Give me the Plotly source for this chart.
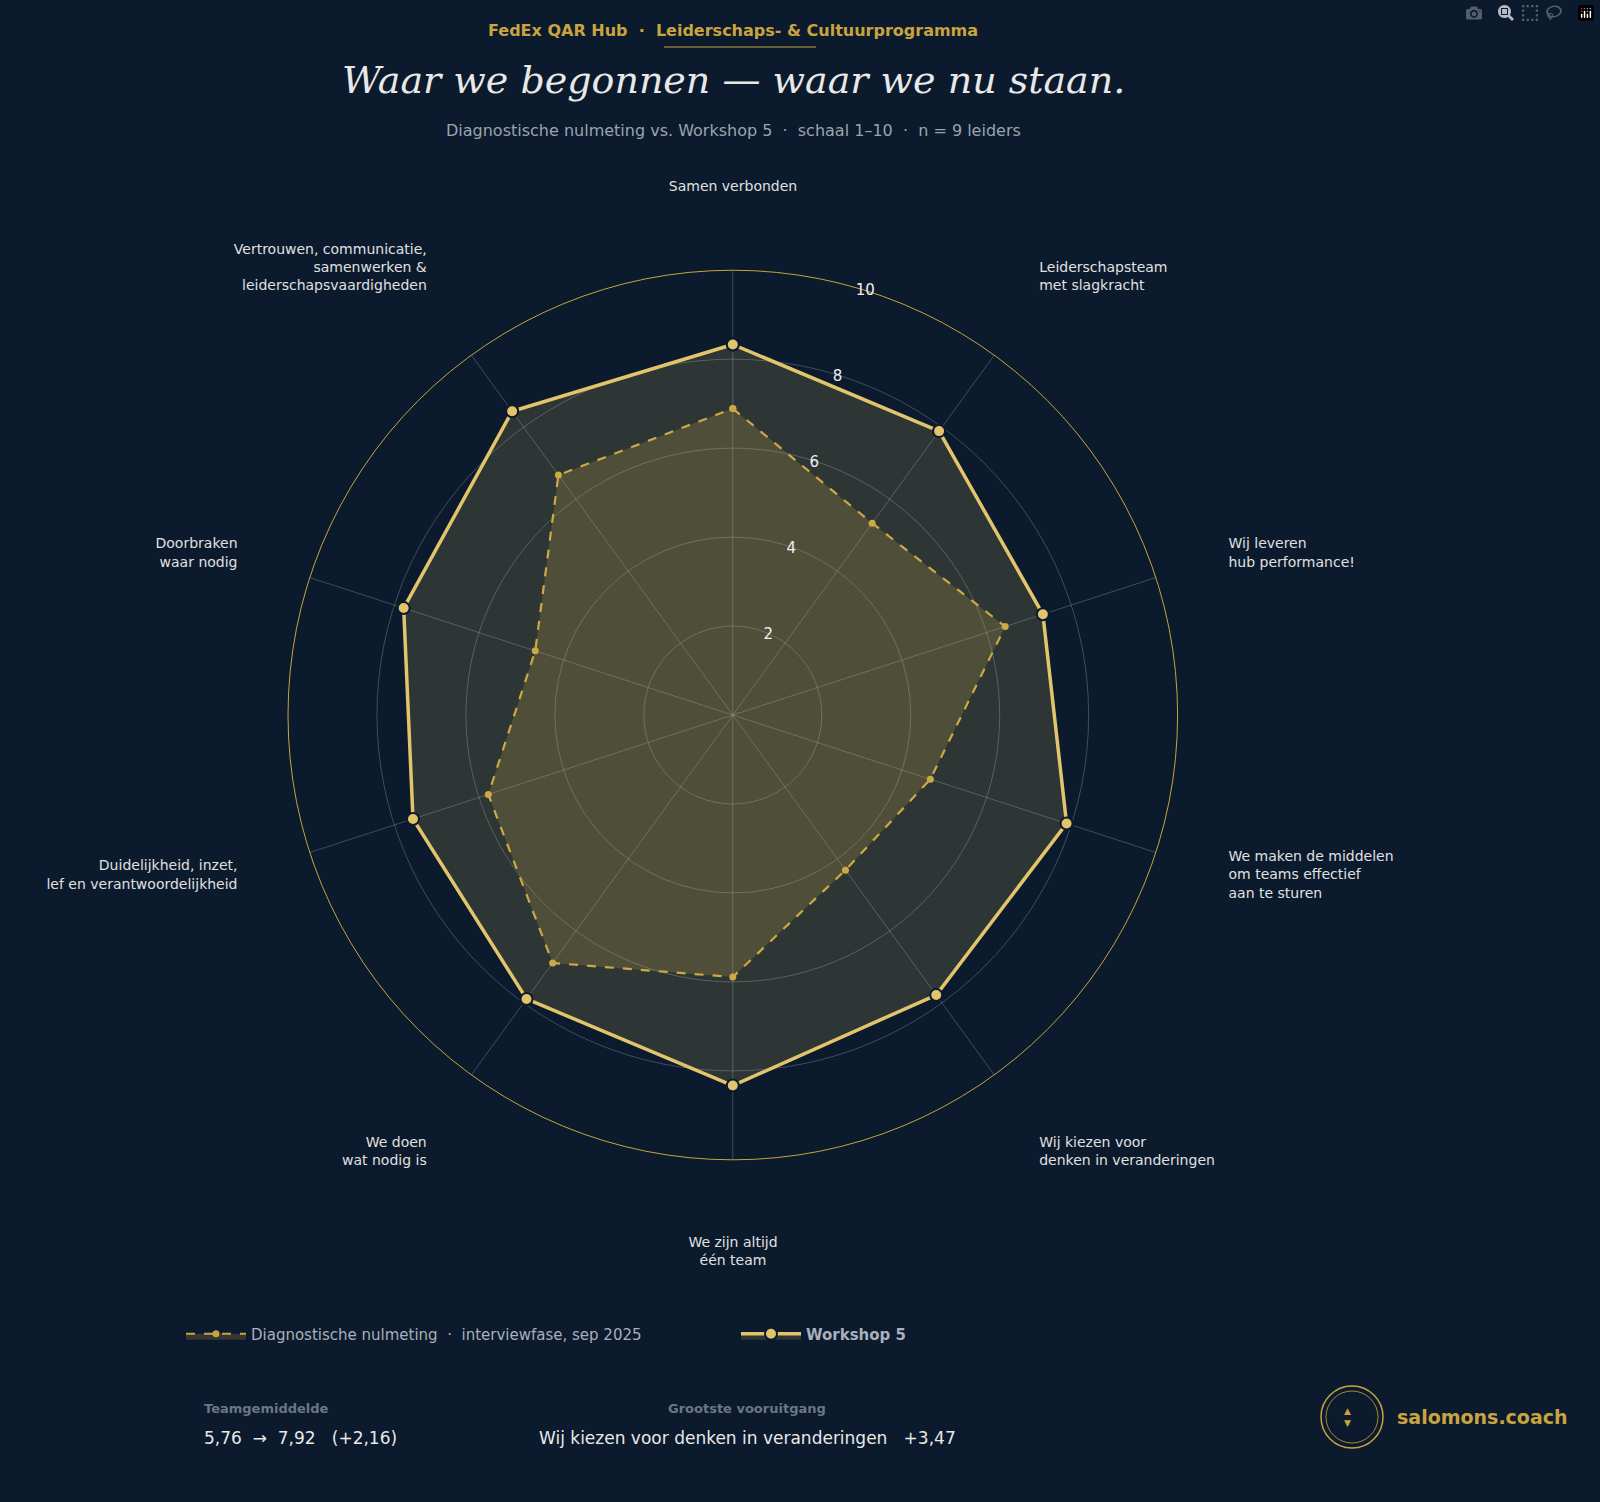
import plotly.graph_objects as go

categories = ["Samen verbonden", "Leiderschapsteam<br>met slagkracht", "Wij leveren<br>hub performance!",
              "We maken de middelen<br>om teams effectief<br>aan te sturen", "Wij kiezen voor<br>denken in veranderingen",
              "We zijn altijd<br>één team", "We doen<br>wat nodig is", "Duidelijkheid, inzet,<br>lef en verantwoordelijkheid",
              "Doorbraken<br>waar nodig", "Vertrouwen, communicatie,<br>samenwerken &<br>leiderschapsvaardigheden"]
baseline = [6.89, 5.33, 6.44, 4.67, 4.31, 5.89, 6.89, 5.78, 4.67, 6.67]
workshop5 = [8.33, 7.89, 7.33, 7.89, 7.78, 8.33, 7.89, 7.56, 7.78, 8.44]
radial_ticks = [2, 4, 6, 8, 10]
label_positions = ["top center", "top right", "middle right", "middle right", "bottom right",
                   "bottom center", "bottom left", "middle left", "middle left", "top left"]

BG = "#0b1a2c"
GOLD = "#c9a43f"
LIGHTGOLD = "#e2c46b"

theta = categories + [categories[0]]
fig = go.Figure()
fig.add_trace(go.Scatterpolar(r=baseline + [baseline[0]], theta=theta, mode="lines+markers",
    fill="toself", fillcolor="rgba(201,164,63,0.22)",
    line=dict(color=GOLD, width=2.2, dash="dash"), marker=dict(size=7, color=GOLD),
    name="Diagnostische nulmeting  ·  interviewfase, sep 2025"))
fig.add_trace(go.Scatterpolar(r=workshop5 + [workshop5[0]], theta=theta, mode="lines+markers",
    fill="toself", fillcolor="rgba(226,196,107,0.16)",
    line=dict(color=LIGHTGOLD, width=3.5), marker=dict(size=12, color=LIGHTGOLD, line=dict(color=BG, width=2)),
    name="<b>Workshop 5</b>"))
fig.add_trace(go.Scatterpolar(r=[10] * len(categories), theta=categories, mode="text", text=categories,
    textposition=label_positions, textfont=dict(size=14, color="#e0e0e0"), subplot="polar2",
    showlegend=False, hoverinfo="skip"))

fig.update_layout(
    width=1600, height=1502, paper_bgcolor=BG, plot_bgcolor=BG,
    margin=dict(l=0, r=0, t=0, b=0),
    font=dict(family="DejaVu Sans", color="#e8e8e8", size=14),
    polar=dict(
        bgcolor=BG, domain=dict(x=[0.18, 0.736], y=[0.2277, 0.8202]),
        radialaxis=dict(range=[0, 10], tickvals=radial_ticks, angle=75, tickangle=75,
                        gridcolor="rgba(160,170,185,0.35)", showline=False,
                        tickfont=dict(size=15, color="#f0f0f0", family="DejaVu Sans"), ticks=""),
        angularaxis=dict(rotation=90, direction="clockwise", gridcolor="rgba(160,170,185,0.35)",
                         linecolor=GOLD, linewidth=1, ticks="", showticklabels=False),
    ),
    polar2=dict(
        bgcolor="rgba(0,0,0,0)", domain=dict(x=[212/1600, 1254/1600], y=[1-1236/1502, 1-194/1502]),
        radialaxis=dict(range=[0, 10], visible=False),
        angularaxis=dict(rotation=90, direction="clockwise", visible=False, categoryarray=categories),
    ),
    legend=dict(orientation="h", x=0.46, xanchor="center", y=1-1334/1502, yanchor="middle",
                font=dict(size=15, color="#a8b0bb"), bgcolor="rgba(0,0,0,0)",
                entrywidth=480, itemwidth=60),
)

ann = [
    dict(text="<b>FedEx QAR Hub  ·  Leiderschaps- & Cultuurprogramma</b>", x=733/1600, y=1502-30, font=dict(size=16, color=GOLD)),
    dict(text="<i>Waar we begonnen — waar we nu staan.</i>", x=733/1600, y=1502-80, font=dict(size=38, color="#e8e8e8", family="DejaVu Serif")),
    dict(text="Diagnostische nulmeting vs. Workshop 5  ·  schaal 1–10  ·  n = 9 leiders", x=733/1600, y=1502-130, font=dict(size=16, color="#9aa4b0")),
    dict(text="<b>Teamgemiddelde</b>", x=0.126, y=1502-1408, xanchor="left", font=dict(size=13, color="#6b7686")),
    dict(text="5,76  →  7,92   (+2,16)", x=0.126, y=1502-1438, xanchor="left", font=dict(size=17, color="#e8e8e8")),
    dict(text="<b>Grootste vooruitgang</b>", x=0.467, y=1502-1408, font=dict(size=13, color="#6b7686")),
    dict(text="Wij kiezen voor denken in veranderingen   +3,47", x=0.467, y=1502-1438, font=dict(size=17, color="#e8e8e8")),
    dict(text="<b>salomons.coach</b>", x=0.872, y=1502-1417, xanchor="left", font=dict(size=19, color=GOLD)),
    dict(text="▲<br>▼", x=0.8455, y=1502-1417, font=dict(size=9, color=GOLD)),
]
for a in ann:
    fig.add_annotation(xref="paper", yref="paper", showarrow=False, yanchor="middle",
                       **{k: (v / 1502 if k == "y" else v) for k, v in a.items()})
fig.add_shape(type="line", xref="paper", yref="paper", x0=664/1600, x1=816/1600, y0=1-47/1502, y1=1-47/1502,
              line=dict(color=GOLD, width=1))
fig.add_shape(type="circle", xref="paper", yref="paper", x0=1321/1600, x1=1383/1600, y0=1-1448/1502, y1=1-1386/1502,
              line=dict(color=GOLD, width=1.5))
fig.add_shape(type="circle", xref="paper", yref="paper", x0=1326/1600, x1=1378/1600, y0=1-1443/1502, y1=1-1391/1502,
              line=dict(color=GOLD, width=0.8))
fig.write_html("out.html", post_script="document.body.style.margin='0';document.body.style.background='#0b1a2c';")
